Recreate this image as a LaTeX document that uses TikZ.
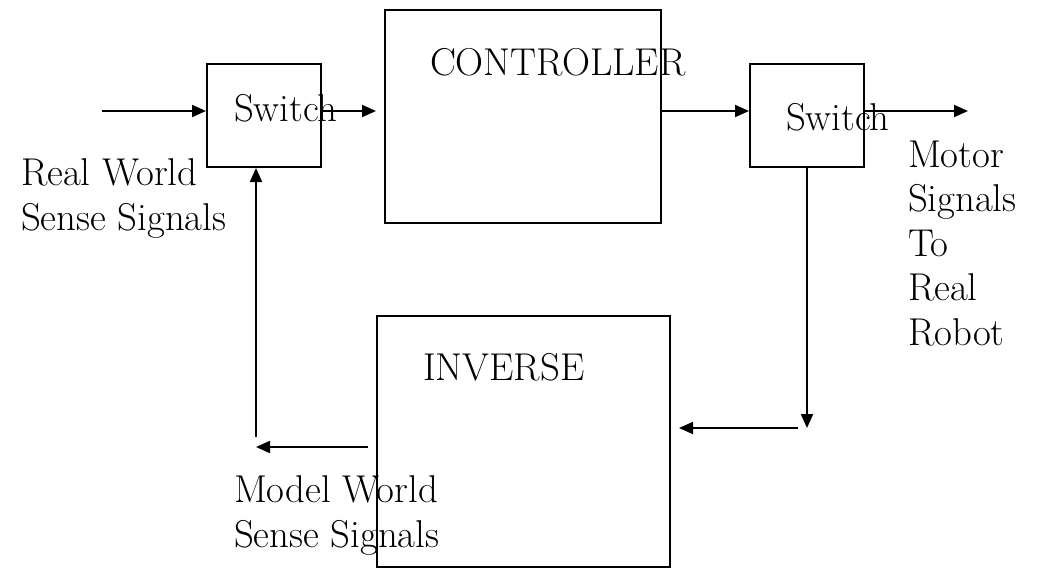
\documentclass[tikz,border=0pt]{standalone}
\usetikzlibrary{arrows.meta}
\begin{document}
\begin{tikzpicture}[
        x=0.5pt, y=-0.5pt, line width=1pt,
        block/.style = {rectangle, draw, line width=1pt, inner sep=0pt},
        sigtext/.style = {inner sep=0pt, anchor=base west, align=left, font=\fontsize{19.4}{22.2}\selectfont},
        signal/.style = {-{Triangle[length=7pt, width=6pt]}}
    ]
    \useasboundingbox (0,0) rectangle (1040,568);
    % blocks
    \node[block, minimum width=57pt, minimum height=51.5pt] (sw1) at (264,115.5) {};
    \node[block, minimum width=138pt, minimum height=106.5pt] (ctrl) at (523,116.5) {};
    \node[block, minimum width=57pt, minimum height=51.5pt] (sw2) at (807,115.5) {};
    \node[block, minimum width=146.5pt, minimum height=125.5pt] (inv) at (523.5,441.5) {};
    % texts (base = last line)
    \node[sigtext] (sw1text) at (233,121) {Switch};
    \node[sigtext] (ctrltext) at (429,75) {CONTROLLER};
    \node[sigtext] (sw2text) at (785,130) {Switch};
    \node[sigtext] (invtext) at (422,380) {INVERSE};
    \node[sigtext] (realtext) at (20,230) {Real World\\Sense Signals};
    \node[sigtext] (modeltext) at (233,547) {Model World\\Sense Signals};
    \node[sigtext] (motortext) at (907,345) {Motor\\Signals\\To\\Real\\Robot};
    % free ends
    \coordinate (in) at (102,111);
    \coordinate (out) at (968,111);
    \coordinate (down) at (807,428);
    \coordinate (back) at (256,447);
    % connectors
    \draw[signal] (in) -- (in -| sw1.west);
    \draw[signal, shorten >=4pt] (sw1.east |- in) -- (in -| ctrl.west);
    \draw[signal] (ctrl.east |- in) -- (in -| sw2.west);
    \draw[signal] (sw2.east |- out) -- (out);
    \draw[signal] (sw2.south) -- (down);
    \draw[signal, shorten <=4.5pt, shorten >=4pt] (down) -- (down -| inv.east);
    \draw[signal, shorten <=4pt] (inv.west |- back) -- (back);
    \draw[signal, shorten <=5pt] (back) -- (back |- sw1.south);
\end{tikzpicture}
\end{document}
